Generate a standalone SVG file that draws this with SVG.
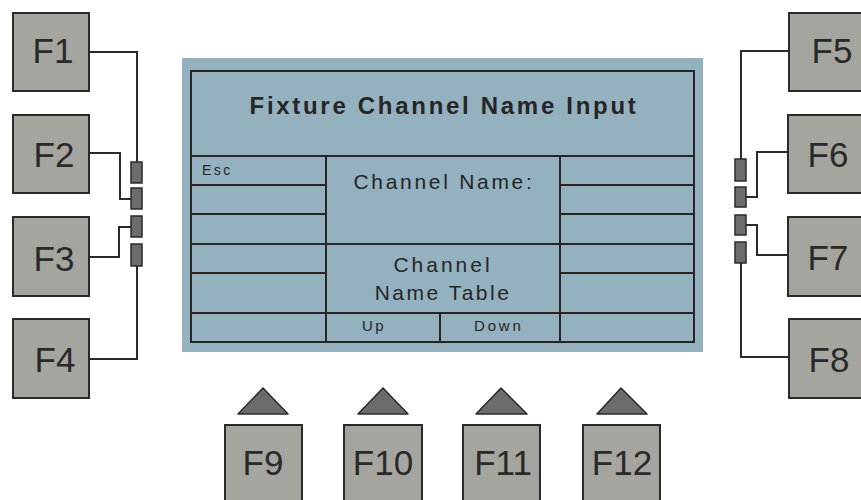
<svg xmlns="http://www.w3.org/2000/svg" width="861" height="500" viewBox="0 0 861 500">
<style>
.key{fill:#a4a59e;stroke:#2a2a2a;stroke-width:2}
.kt{font-family:"Liberation Sans",Arial,sans-serif;font-size:35px;fill:#2a2a2a;text-anchor:middle}
.tab{fill:#6c6c6c;stroke:#2a2a2a;stroke-width:1.5}
.tri{fill:#6c6c6c;stroke:#2a2a2a;stroke-width:1.5;stroke-linejoin:round}
.wire{fill:none;stroke:#2a2a2a;stroke-width:2}
.grid{fill:none;stroke:#262626;stroke-width:2}
.st{font-family:"Liberation Sans",Arial,sans-serif;fill:#262626}
</style>
<rect width="861" height="500" fill="#ffffff"/>
<g id="screen">
<rect x="182" y="58" width="521" height="294" fill="#93b1bf"/>
<rect class="grid" x="191" y="71" width="503" height="271"/>
<path class="grid" d="M191,156H694 M326,156V342 M560,156V342 M191,185H326 M191,214H326 M191,244H326 M191,273H326 M191,313H326 M560,185H694 M560,214H694 M560,244H694 M560,273H694 M560,313H694 M326,244H560 M326,313H560 M440,313V342"/>
<text class="st" x="444" y="114" font-size="24" font-weight="bold" letter-spacing="2.7" text-anchor="middle">Fixture Channel Name Input</text>
<text class="st" x="202" y="175" font-size="14" letter-spacing="2.5">Esc</text>
<text class="st" x="444" y="189" font-size="21" letter-spacing="2.7" text-anchor="middle">Channel Name:</text>
<text class="st" x="443" y="272" font-size="21" letter-spacing="3" text-anchor="middle">Channel</text>
<text class="st" x="443" y="300" font-size="21" letter-spacing="2.5" text-anchor="middle">Name Table</text>
<text class="st" x="362" y="331" font-size="15" letter-spacing="2.5">Up</text>
<text class="st" x="474" y="331" font-size="15" letter-spacing="2.8">Down</text>
</g>
<g id="connectors">
<path class="wire" d="M89,52H137V162"/>
<path class="wire" d="M89,153H120V199H131"/>
<path class="wire" d="M89,257H119V227H131"/>
<path class="wire" d="M137,266V359H89"/>
<path class="wire" d="M789,51H741V159"/>
<path class="wire" d="M788,152H757V197H746"/>
<path class="wire" d="M788,255H757V225H746"/>
<path class="wire" d="M741,263V357H789"/>
<rect class="tab" x="131" y="162" width="11" height="21"/>
<rect class="tab" x="131" y="188" width="11" height="21"/>
<rect class="tab" x="131" y="216" width="11" height="21"/>
<rect class="tab" x="131" y="244" width="11" height="22"/>
<rect class="tab" x="735" y="159" width="11" height="22"/>
<rect class="tab" x="735" y="187" width="11" height="20"/>
<rect class="tab" x="735" y="215" width="11" height="20"/>
<rect class="tab" x="735" y="242" width="11" height="21"/>
</g>
<g id="F1"><rect class="key" x="13" y="13" width="76" height="78"/><text class="kt" x="53" y="63">F1</text></g>
<g id="F2"><rect class="key" x="13" y="115" width="76" height="78"/><text class="kt" x="54" y="167">F2</text></g>
<g id="F3"><rect class="key" x="13" y="217" width="76" height="79"/><text class="kt" x="54" y="271">F3</text></g>
<g id="F4"><rect class="key" x="13" y="319" width="76" height="79"/><text class="kt" x="55" y="372">F4</text></g>
<g id="F5"><rect class="key" x="789" y="13" width="78" height="78"/><text class="kt" x="832" y="63">F5</text></g>
<g id="F6"><rect class="key" x="788" y="115" width="79" height="78"/><text class="kt" x="828" y="167">F6</text></g>
<g id="F7"><rect class="key" x="788" y="217" width="79" height="79"/><text class="kt" x="828" y="270">F7</text></g>
<g id="F8"><rect class="key" x="789" y="319" width="78" height="79"/><text class="kt" x="829" y="372">F8</text></g>
<g id="F9"><path class="tri" d="M238,414L263,388L288,414Z"/><rect class="key" x="225" y="425" width="77" height="80"/><text class="kt" x="263" y="475">F9</text></g>
<g id="F10"><path class="tri" d="M358,414L383,388L408,414Z"/><rect class="key" x="344" y="425" width="78" height="80"/><text class="kt" x="383" y="475">F10</text></g>
<g id="F11"><path class="tri" d="M476,414L501,388L527,414Z"/><rect class="key" x="463" y="425" width="77" height="80"/><text class="kt" x="503" y="475">F11</text></g>
<g id="F12"><path class="tri" d="M597,414L621,388L647,414Z"/><rect class="key" x="583" y="425" width="77" height="80"/><text class="kt" x="622" y="475">F12</text></g>
</svg>
